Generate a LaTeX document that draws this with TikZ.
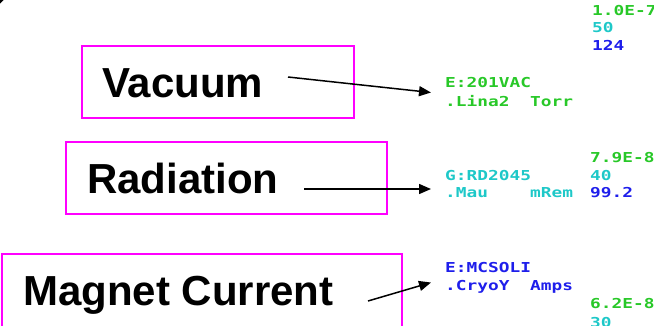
\documentclass[tikz,border=0pt]{standalone}
\usepackage{fontspec}
\setmainfont{Liberation Sans}
\newfontfamily\pixmono{DejaVu Sans Mono}
\usetikzlibrary{arrows.meta}
\definecolor{boxmag}{RGB}{255,0,255}
\definecolor{pgreen}{RGB}{40,200,40}
\definecolor{pcyan}{RGB}{30,200,200}
\definecolor{pblue}{RGB}{30,30,235}
\newcommand{\pxt}[1]{\scalebox{1.3}[1]{\pixmono\bfseries\fontsize{13.7}{14}\selectfont #1}}
\tikzset{
  labelbox/.style={draw=boxmag, line width=2pt, anchor=north west, inner sep=0pt},
  bigtxt/.style={anchor=base west, inner sep=0pt, font=\fontsize{42}{44}\selectfont\bfseries},
  pix/.style={anchor=base west, inner sep=0pt},
  pointer/.style={line width=1.5pt, -{Triangle[length=12pt,width=10pt]}}
}
\begin{document}
\begin{tikzpicture}[x=1pt,y=-1pt]
\useasboundingbox (0,0) rectangle (654,325);
% tiny mark at top-left
\fill (0,0) -- (3.5,0) -- (0,3.5) -- cycle;
% boxes
\node[labelbox, minimum width=272pt, minimum height=72pt] (vacbox) at (81,45) {};
\node[labelbox, minimum width=321pt, minimum height=72pt] (radbox) at (65,141) {};
\node[labelbox, minimum width=400pt, minimum height=80pt] (magbox) at (1,253) {};
% big labels
\node[bigtxt] (vac) at (102,97) {Vacuum};
\node[bigtxt] (rad) at (87,193) {Radiation};
\node[bigtxt] (mag) at (23,305) {Magnet Current};
% arrow endpoints
\coordinate (vs) at (288,77);
\coordinate (ve) at (431,92.5);
\coordinate (rs) at (304,189);
\coordinate (re) at (431,189);
\coordinate (ms) at (368,301);
\coordinate (me) at (431,282.5);
\draw[pointer] (vs) -- (ve);
\draw[pointer] (rs) -- (re);
\draw[pointer] (ms) -- (me);
% pixel readouts, top group
\node[pix, text=pgreen] (t1) at (592,15) {\pxt{1.0E-7}};
\node[pix, text=pcyan] (t2) at (592,32) {\pxt{50}};
\node[pix, text=pblue] (t3) at (592,50.5) {\pxt{124}};
\node[pix, text=pgreen] (v1) at (445,87) {\pxt{E:201VAC}};
\node[pix, text=pgreen] (v2) at (445,106) {\pxt{.Lina2}};
\node[pix, text=pgreen] (v3) at (530,106) {\pxt{Torr}};
% radiation group
\node[pix, text=pgreen] (r0) at (590,162) {\pxt{7.9E-8}};
\node[pix, text=pcyan] (r1) at (445,180) {\pxt{G:RD2045}};
\node[pix, text=pcyan] (r1b) at (590,180) {\pxt{40}};
\node[pix, text=pcyan] (r2) at (445,197) {\pxt{.Mau}};
\node[pix, text=pcyan] (r2b) at (530,197) {\pxt{mRem}};
\node[pix, text=pblue] (r2c) at (590,197) {\pxt{99.2}};
% magnet group
\node[pix, text=pblue] (m1) at (445,272) {\pxt{E:MCSOLI}};
\node[pix, text=pblue] (m2) at (445,290) {\pxt{.CryoY}};
\node[pix, text=pblue] (m2b) at (530,290) {\pxt{Amps}};
\node[pix, text=pgreen] (m3) at (590,308) {\pxt{6.2E-8}};
\node[pix, text=pcyan] (m4) at (590,327) {\pxt{30}};
\end{tikzpicture}
\end{document}
